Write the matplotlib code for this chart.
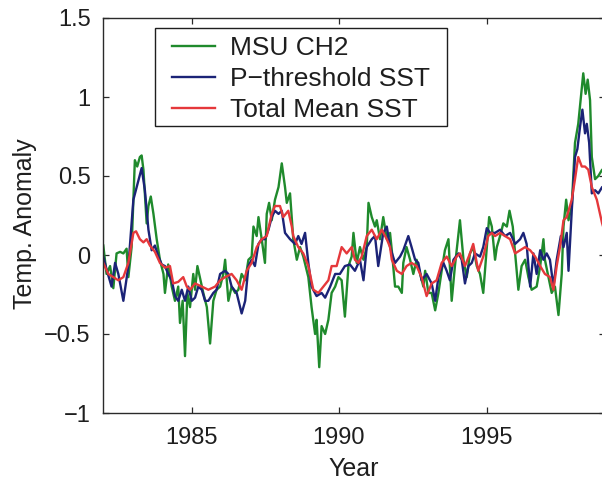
import matplotlib
matplotlib.use("Agg")
import matplotlib.pyplot as plt
from matplotlib.patches import Rectangle

plt.rcParams['font.family'] = ['Liberation Sans', 'DejaVu Sans']
plt.rcParams['axes.unicode_minus'] = True

# ---------------- data (years, anomaly) ----------------
msu_years = [1982.01, 1982.12, 1982.24, 1982.35, 1982.46, 1982.58, 1982.69, 1982.80, 1982.86, 1982.97,
             1983.08, 1983.16, 1983.25, 1983.31, 1983.37, 1983.48, 1983.54, 1983.62, 1983.71, 1983.82,
             1983.93, 1984.05, 1984.10, 1984.21, 1984.33, 1984.44, 1984.55, 1984.61, 1984.70, 1984.78,
             1984.86, 1984.95, 1985.06, 1985.12, 1985.20, 1985.40, 1985.52, 1985.63, 1985.74, 1985.85,
             1985.97, 1986.08, 1986.14, 1986.25, 1986.36, 1986.48, 1986.59, 1986.70, 1986.82, 1986.93,
             1987.04, 1987.10, 1987.21, 1987.27, 1987.38, 1987.49, 1987.55, 1987.63, 1987.72, 1987.83,
             1987.95, 1988.06, 1988.17, 1988.23, 1988.34, 1988.45, 1988.57, 1988.68, 1988.79, 1988.96,
             1989.07, 1989.19, 1989.24, 1989.33, 1989.41, 1989.53, 1989.64, 1989.75, 1989.87, 1989.98,
             1990.09, 1990.20, 1990.32, 1990.43, 1990.49, 1990.60, 1990.71, 1990.83, 1990.94, 1991.00,
             1991.11, 1991.22, 1991.28, 1991.39, 1991.50, 1991.62, 1991.73, 1991.79, 1991.90, 1992.01,
             1992.13, 1992.18, 1992.29, 1992.41, 1992.52, 1992.63, 1992.75, 1992.86, 1992.92, 1993.03,
             1993.14, 1993.26, 1993.37, 1993.48, 1993.59, 1993.71, 1993.82, 1993.93, 1994.10, 1994.22,
             1994.33, 1994.44, 1994.55, 1994.67, 1994.78, 1994.89, 1995.01, 1995.09, 1995.18, 1995.29,
             1995.35, 1995.46, 1995.57, 1995.69, 1995.78, 1995.89, 1995.97, 1996.08, 1996.19, 1996.31,
             1996.42, 1996.53, 1996.70, 1996.82, 1996.93, 1996.98, 1997.10, 1997.21, 1997.32, 1997.44,
             1997.55, 1997.61, 1997.70, 1997.78, 1997.89, 1998.00, 1998.11, 1998.19, 1998.28, 1998.36,
             1998.43, 1998.51, 1998.57, 1998.68, 1998.79, 1998.92, 1999.05]
msu_vals = [0.06, -0.12, -0.07, -0.21, 0.01, 0.02, 0.01, 0.04, -0.14, 0.05,
            0.60, 0.56, 0.62, 0.63, 0.54, 0.20, 0.31, 0.37, 0.26, 0.10,
            -0.03, -0.12, -0.24, -0.06, -0.20, -0.29, -0.20, -0.43, -0.29, -0.64,
            -0.24, -0.33, -0.12, -0.22, -0.07, -0.24, -0.33, -0.56, -0.29, -0.22,
            -0.20, -0.12, -0.03, -0.29, -0.20, -0.24, -0.22, -0.12, -0.16, -0.03,
            -0.01, 0.18, 0.12, 0.24, 0.10, -0.05, 0.26, 0.33, 0.22, 0.35,
            0.43, 0.58, 0.43, 0.33, 0.39, 0.10, -0.03, 0.05, -0.01, -0.14,
            -0.33, -0.50, -0.41, -0.71, -0.45, -0.50, -0.41, -0.24, -0.20, -0.14,
            -0.16, -0.39, -0.07, -0.01, 0.14, -0.05, 0.05, -0.03, 0.05, 0.33,
            0.24, 0.18, 0.22, 0.10, 0.24, 0.10, 0.14, 0.03, -0.20, -0.20,
            -0.24, -0.05, 0.05, -0.03, -0.12, -0.03, -0.12, -0.20, -0.10, -0.24,
            -0.24, -0.35, -0.24, -0.10, 0.03, 0.10, -0.29, -0.07, 0.22, -0.03,
            -0.14, 0.01, 0.05, -0.07, -0.12, -0.24, 0.05, 0.24, 0.18, -0.03,
            0.05, 0.12, 0.20, 0.18, 0.28, 0.18, 0.01, -0.22, -0.07, -0.03,
            -0.14, -0.22, -0.20, -0.07, 0.10, -0.03, -0.14, -0.24, -0.20, -0.38,
            -0.12, 0.18, 0.35, 0.22, 0.31, 0.71, 0.83, 0.98, 1.15, 1.02,
            1.11, 0.98, 0.62, 0.48, 0.50, 0.54, 0.50]

pthr_years = [1982.01, 1982.12, 1982.29, 1982.41, 1982.52, 1982.69, 1982.86, 1983.03, 1983.20, 1983.31,
              1983.42, 1983.54, 1983.65, 1983.76, 1983.88, 1983.99, 1984.10, 1984.21, 1984.33, 1984.44,
              1984.55, 1984.67, 1984.78, 1984.89, 1985.01, 1985.12, 1985.23, 1985.35, 1985.46, 1985.57,
              1985.74, 1985.85, 1985.97, 1986.14, 1986.25, 1986.36, 1986.53, 1986.70, 1986.82, 1986.93,
              1987.04, 1987.15, 1987.27, 1987.38, 1987.49, 1987.61, 1987.72, 1987.83, 1987.95, 1988.06,
              1988.17, 1988.34, 1988.51, 1988.62, 1988.73, 1988.85, 1988.96, 1989.07, 1989.24, 1989.41,
              1989.53, 1989.70, 1989.87, 1990.03, 1990.20, 1990.37, 1990.54, 1990.71, 1990.83, 1990.94,
              1991.11, 1991.22, 1991.33, 1991.50, 1991.62, 1991.73, 1991.90, 1992.07, 1992.18, 1992.35,
              1992.46, 1992.58, 1992.69, 1992.80, 1992.97, 1993.14, 1993.26, 1993.37, 1993.54, 1993.65,
              1993.76, 1993.88, 1994.05, 1994.16, 1994.27, 1994.39, 1994.50, 1994.61, 1994.78, 1994.89,
              1995.01, 1995.12, 1995.29, 1995.46, 1995.63, 1995.80, 1995.97, 1996.14, 1996.25, 1996.36,
              1996.48, 1996.59, 1996.70, 1996.82, 1996.93, 1997.04, 1997.15, 1997.27, 1997.38, 1997.52,
              1997.61, 1997.72, 1997.78, 1997.89, 1998.00, 1998.08, 1998.17, 1998.25, 1998.34, 1998.40,
              1998.48, 1998.57, 1998.68, 1998.79, 1998.92, 1999.05]
pthr_vals = [-0.01, -0.09, -0.20, -0.05, -0.12, -0.29, -0.07, 0.35, 0.47, 0.55,
             0.41, 0.16, 0.03, 0.06, -0.01, -0.06, -0.07, -0.12, -0.16, -0.26,
             -0.29, -0.22, -0.29, -0.20, -0.29, -0.27, -0.20, -0.22, -0.29, -0.29,
             -0.24, -0.22, -0.12, -0.10, -0.12, -0.20, -0.24, -0.37, -0.29, -0.07,
             -0.03, -0.07, 0.07, 0.10, 0.10, 0.16, 0.24, 0.28, 0.26, 0.28,
             0.14, 0.10, 0.07, 0.12, 0.07, 0.14, -0.05, -0.20, -0.26, -0.24,
             -0.27, -0.20, -0.12, -0.12, -0.07, -0.06, -0.10, -0.03, -0.16, 0.05,
             0.10, 0.12, -0.07, 0.14, 0.18, 0.05, -0.05, -0.01, 0.03, 0.12,
             0.05, -0.03, -0.05, -0.16, -0.12, -0.18, -0.29, -0.14, -0.05, -0.10,
             -0.16, -0.03, 0.01, -0.03, -0.18, -0.07, -0.05, 0.01, -0.01, 0.05,
             0.17, 0.14, 0.14, 0.16, 0.12, 0.14, 0.07, 0.10, 0.14, 0.07,
             -0.20, 0.01, -0.12, 0.03, -0.03, 0.01, -0.03, -0.20, -0.03, 0.12,
             0.05, 0.14, -0.10, 0.28, 0.62, 0.67, 0.81, 0.92, 0.77, 0.83,
             0.71, 0.39, 0.41, 0.39, 0.43, 0.40]

mean_years = [1982.01, 1982.18, 1982.35, 1982.52, 1982.69, 1982.86, 1983.03, 1983.12, 1983.25, 1983.37,
              1983.48, 1983.59, 1983.76, 1983.93, 1984.10, 1984.27, 1984.38, 1984.55, 1984.72, 1984.84,
              1984.95, 1985.12, 1985.35, 1985.57, 1985.80, 1985.97, 1986.14, 1986.36, 1986.53, 1986.70,
              1986.87, 1987.04, 1987.21, 1987.38, 1987.55, 1987.72, 1987.83, 1988.00, 1988.11, 1988.28,
              1988.40, 1988.45, 1988.62, 1988.79, 1988.96, 1989.13, 1989.30, 1989.47, 1989.64, 1989.75,
              1989.92, 1990.09, 1990.26, 1990.43, 1990.54, 1990.66, 1990.77, 1990.94, 1991.11, 1991.28,
              1991.45, 1991.62, 1991.73, 1991.79, 1991.96, 1992.13, 1992.29, 1992.46, 1992.63, 1992.80,
              1992.97, 1993.14, 1993.31, 1993.48, 1993.65, 1993.82, 1993.99, 1994.10, 1994.27, 1994.44,
              1994.55, 1994.72, 1994.89, 1995.06, 1995.18, 1995.29, 1995.46, 1995.63, 1995.80, 1995.97,
              1996.14, 1996.31, 1996.48, 1996.65, 1996.82, 1996.98, 1997.15, 1997.27, 1997.38, 1997.49,
              1997.61, 1997.72, 1997.89, 1998.00, 1998.11, 1998.23, 1998.34, 1998.45, 1998.57, 1998.74,
              1998.92, 1999.05]
mean_vals = [-0.05, -0.12, -0.14, -0.16, -0.14, -0.05, 0.14, 0.15, 0.10, 0.08,
             0.10, 0.06, 0.02, -0.05, -0.08, -0.07, -0.18, -0.17, -0.14, -0.20,
             -0.22, -0.18, -0.20, -0.22, -0.20, -0.16, -0.14, -0.12, -0.16, -0.22,
             -0.10, -0.05, 0.05, 0.10, 0.12, 0.26, 0.31, 0.31, 0.24, 0.28,
             0.18, 0.12, 0.05, 0.01, -0.07, -0.22, -0.24, -0.20, -0.16, -0.07,
             -0.07, 0.05, 0.01, 0.05, -0.03, -0.05, -0.01, 0.12, 0.16, 0.10,
             0.16, 0.10, 0.05, -0.03, -0.10, -0.12, -0.07, -0.05, -0.07, -0.14,
             -0.26, -0.18, -0.16, -0.05, -0.01, -0.07, -0.01, 0.01, -0.07, 0.01,
             0.07, -0.10, -0.01, 0.12, 0.14, 0.12, 0.14, 0.12, 0.10, 0.01,
             0.03, 0.05, 0.03, -0.01, -0.07, -0.12, -0.14, -0.22, -0.07, 0.05,
             0.22, 0.24, 0.35, 0.48, 0.62, 0.56, 0.56, 0.54, 0.43, 0.35,
             0.20, 0.12]

series_labels = ['MSU CH2', 'P\u2212threshold SST', 'Total Mean SST']
x_ticks = [1985, 1990, 1995]
y_ticks = [-1, -0.5, 0, 0.5, 1, 1.5]
y_ticklabels = ['\u22121', '\u22120.5', '0', '0.5', '1', '1.5']

# ---------------- figure ----------------
W, H = 602, 480
fig = plt.figure(figsize=(W / 100, H / 100), dpi=100)
ax_l, ax_r, ax_t, ax_b = 103, 604.5, 18, 413
ax = fig.add_axes([ax_l / W, 1 - ax_b / H, (ax_r - ax_l) / W, (ax_b - ax_t) / H])

text_c = '#1e1e1e'
green = '#1f8a2c'
navy = '#1b2377'
red = '#e5383b'
lw = 1.7

ax.plot(msu_years, msu_vals, color=green, lw=lw, label=series_labels[0])
ax.plot(pthr_years, pthr_vals, color=navy, lw=lw, label=series_labels[1])
ax.plot(mean_years, mean_vals, color=red, lw=lw, label=series_labels[2])

ax.set_xlim(1982, 1999)
ax.set_ylim(-1, 1.5)
ax.set_xticks(x_ticks)
ax.set_xticklabels([str(t) for t in x_ticks])
ax.set_yticks(y_ticks)
ax.set_yticklabels(y_ticklabels)

ax.tick_params(axis='both', which='both', direction='in', length=4, width=0.9,
               colors='#2a2a2a', labelcolor=text_c, top=True, right=True)
ax.tick_params(axis='x', labelsize=17, pad=10)
ax.tick_params(axis='y', labelsize=17, pad=9)
for s in ax.spines.values():
    s.set_linewidth(1.0)
    s.set_color('#2a2a2a')

ax.set_xlabel('Year', fontsize=18, color=text_c, labelpad=5.5)
ax.set_ylabel('Temp. Anomaly', fontsize=18, color=text_c)
ax.yaxis.set_label_coords(-0.132, 0.48)

# legend box (frame drawn separately so the inner margins match the reference)
box_l, box_r, box_t, box_b = 155, 447, 28, 126
ax.add_patch(Rectangle((box_l / W, 1 - box_b / H), (box_r - box_l) / W, (box_b - box_t) / H,
                       transform=fig.transFigure, facecolor='white', edgecolor='#1e1e1e',
                       linewidth=1.0, zorder=5, clip_on=False))
leg = ax.legend(loc='upper left', bbox_to_anchor=(169 / W, 1 - 33.5 / H), bbox_transform=fig.transFigure,
                fontsize=19, frameon=False, handlelength=1.65, handletextpad=0.55,
                borderpad=0.1, labelspacing=0.27, borderaxespad=0)
leg.set_zorder(6)
for t in leg.get_texts():
    t.set_color(text_c)

fig.savefig('out.png', dpi=100)
